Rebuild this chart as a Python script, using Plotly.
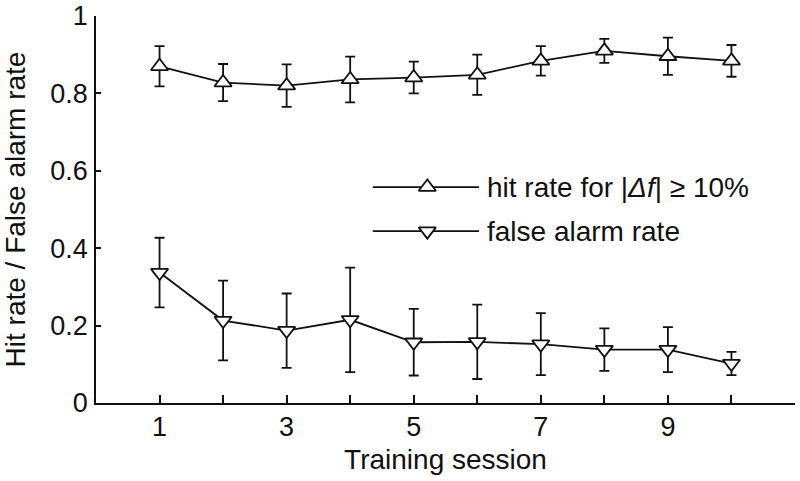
import plotly.graph_objects as go

# ---- data ----
sessions = [1, 2, 3, 4, 5, 6, 7, 8, 9, 10]
hit_rate = [0.870, 0.828, 0.820, 0.836, 0.841, 0.848, 0.884, 0.910, 0.896, 0.884]
hit_err = [0.052, 0.048, 0.055, 0.059, 0.041, 0.052, 0.038, 0.031, 0.048, 0.041]
fa_rate = [0.337, 0.213, 0.187, 0.215, 0.157, 0.158, 0.152, 0.138, 0.138, 0.102]
fa_err = [0.090, 0.103, 0.096, 0.135, 0.086, 0.096, 0.080, 0.055, 0.058, 0.030]

x_tickvals = [1, 2, 3, 4, 5, 6, 7, 8, 9, 10]
x_ticktext = ["1", "", "3", "", "5", "", "7", "", "9", ""]
y_tickvals = [0, 0.2, 0.4, 0.6, 0.8, 1.0]
y_ticktext = ["0", "0.2", "0.4", "0.6", "0.8", "1"]

series_names = ["hit rate for |<i>Δf</i>| ≥ 10%", "false alarm rate"]

# ---- style ----
FONT = "Liberation Sans"
FS_TICK = 27
FS_TITLE = 28
FS_LEG = 28
INK = "#111111"
MSIZE = 15
LW = 1.8

fig = go.Figure()

fig.add_trace(go.Scatter(
    x=sessions, y=hit_rate, mode="lines+markers",
    line=dict(color=INK, width=LW),
    marker=dict(symbol="triangle-up", size=MSIZE, color="white",
                line=dict(color=INK, width=LW)),
    error_y=dict(type="data", array=hit_err, visible=True,
                 color=INK, thickness=LW, width=5),
    showlegend=False,
))
fig.add_trace(go.Scatter(
    x=sessions, y=fa_rate, mode="lines+markers",
    line=dict(color=INK, width=LW),
    marker=dict(symbol="triangle-down", size=MSIZE, color="white",
                line=dict(color=INK, width=LW)),
    error_y=dict(type="data", array=fa_err, visible=True,
                 color=INK, thickness=LW, width=5),
    showlegend=False,
))

# ---- custom legend drawn on an overlay axis in [0,1] ----
LEG_LINE_X = [0.396, 0.548]
LEG_MARK_X = 0.474
LEG_Y = [0.558, 0.444]
LEG_TEXT_X = 0.556
symbols = ["triangle-up", "triangle-down"]
for name, sym, ly in zip(series_names, symbols, LEG_Y):
    fig.add_trace(go.Scatter(
        x=LEG_LINE_X, y=[ly, ly], xaxis="x2", yaxis="y2",
        mode="lines", line=dict(color=INK, width=LW),
        showlegend=False, hoverinfo="skip",
    ))
    fig.add_trace(go.Scatter(
        x=[LEG_MARK_X], y=[ly], xaxis="x2", yaxis="y2",
        mode="markers",
        marker=dict(symbol=sym, size=MSIZE, color="white",
                    line=dict(color=INK, width=LW)),
        showlegend=False, hoverinfo="skip",
    ))
    fig.add_annotation(x=LEG_TEXT_X, y=ly, xref="x2", yref="y2",
                       text=name, showarrow=False, xanchor="left",
                       yanchor="middle", font=dict(family=FONT, size=FS_LEG, color=INK))

fig.update_layout(
    width=800, height=481,
    margin=dict(l=96, r=5, t=16, b=78),
    paper_bgcolor="white", plot_bgcolor="white",
    font=dict(family=FONT, size=FS_TICK, color=INK),
    xaxis=dict(range=[0, 11], tickvals=x_tickvals, ticktext=x_ticktext,
               ticks="inside", ticklen=8, tickwidth=1.5, tickcolor=INK,
               showline=True, linecolor=INK, linewidth=1.8,
               showgrid=False, zeroline=False,
               title=dict(text="Training session", standoff=8,
                          font=dict(size=FS_TITLE)),
               ticklabelstandoff=-1, automargin=False),
    yaxis=dict(range=[0, 1], tickvals=y_tickvals, ticktext=y_ticktext,
               ticks="inside", ticklen=5, tickwidth=1.5, tickcolor=INK,
               showline=True, linecolor=INK, linewidth=1.8,
               showgrid=False, zeroline=False,
               title=dict(text="Hit rate / False alarm rate", standoff=19,
                          font=dict(size=FS_TITLE)),
               ticklabelstandoff=1, automargin=False),
    xaxis2=dict(range=[0, 1], overlaying="x", visible=False),
    yaxis2=dict(range=[0, 1], overlaying="y", visible=False),
)

fig.write_html("out.html", config={"displayModeBar": False},
               post_script="document.body.style.margin='0';document.body.style.overflow='hidden';")
